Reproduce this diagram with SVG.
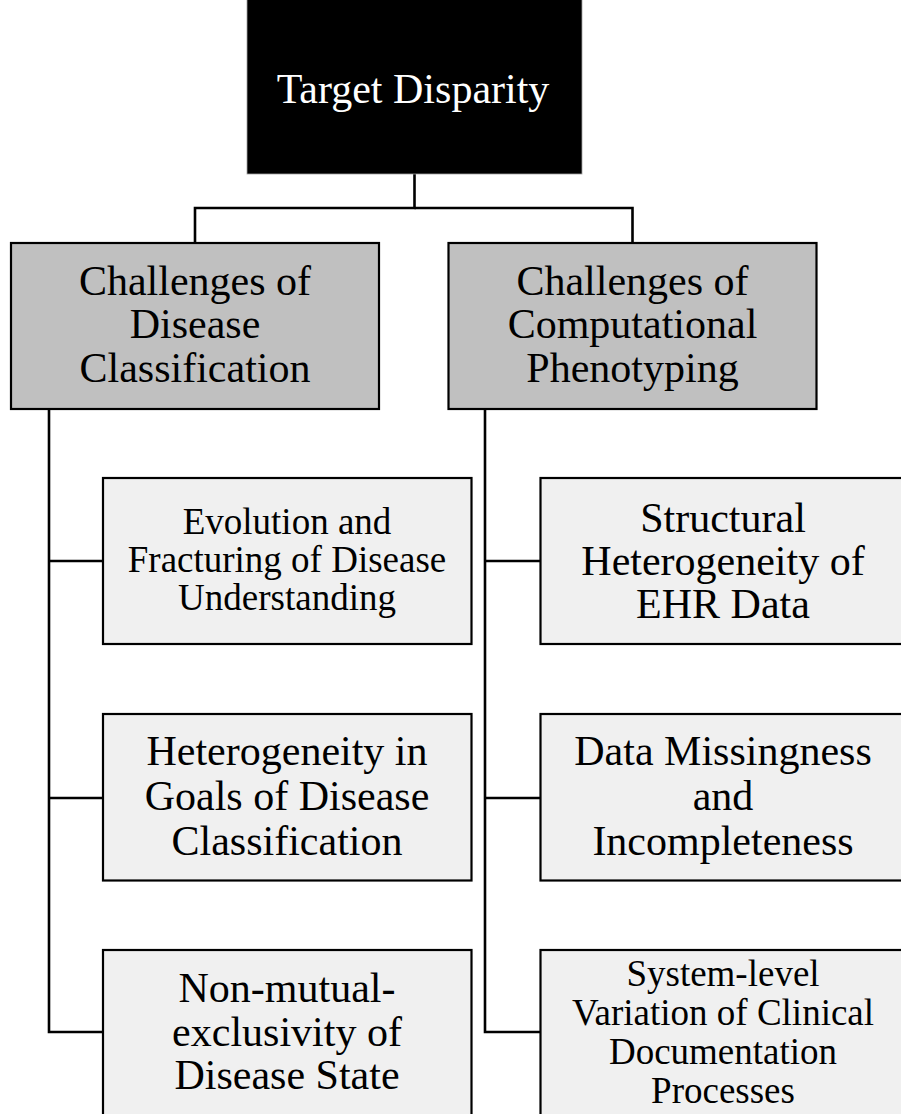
<svg xmlns="http://www.w3.org/2000/svg" width="901" height="1114" viewBox="0 0 901 1114">
<style>
.t{font-family:"Liberation Serif","Times New Roman",serif;text-anchor:middle;fill:#000}
.w{fill:#fff}
.l{font-size:42px}
.s{font-size:37px}
.g{fill:#c0c0c0;stroke:#000;stroke-width:2.2}
.c{fill:#f0f0f0;stroke:#000;stroke-width:2.2}
.cn{fill:none;stroke:#000;stroke-width:2.6}
</style>
<rect width="901" height="1114" fill="#fff"/>
<g id="connectors">
<polyline class="cn" points="414.5,174 414.5,208 195,208 195,243"/>
<polyline class="cn" points="414.5,208 632.5,208 632.5,243"/>
<polyline class="cn" points="49,409 49,1032 103,1032"/>
<line class="cn" x1="49" y1="561" x2="103" y2="561"/>
<line class="cn" x1="49" y1="798" x2="103" y2="798"/>
<polyline class="cn" points="485,409 485,1032 540,1032"/>
<line class="cn" x1="485" y1="561" x2="540" y2="561"/>
<line class="cn" x1="485" y1="798" x2="540" y2="798"/>
</g>
<g id="target">
<rect x="247" y="-2" width="335" height="176" fill="#000" stroke="#a0a0a0" stroke-width="0.8"/>
<text class="t w l" x="413" y="103">Target Disparity</text>
</g>
<g id="disease-classification">
<rect class="g" x="11" y="243" width="368" height="166"/>
<text class="t l" x="195"><tspan x="195" y="295">Challenges of</tspan><tspan x="195" y="338">Disease</tspan><tspan x="195" y="381.5">Classification</tspan></text>
</g>
<g id="computational-phenotyping">
<rect class="g" x="448.5" y="243" width="368" height="166"/>
<text class="t l" x="632.5"><tspan x="632.5" y="295">Challenges of</tspan><tspan x="632.5" y="338">Computational</tspan><tspan x="632.5" y="381.5">Phenotyping</tspan></text>
</g>
<g id="evolution">
<rect class="c" x="103" y="478" width="368.5" height="166"/>
<text class="t s"><tspan x="287" y="534">Evolution and</tspan><tspan x="287" y="572">Fracturing of Disease</tspan><tspan x="287" y="610">Understanding</tspan></text>
</g>
<g id="heterogeneity-goals">
<rect class="c" x="103" y="714" width="368.5" height="166.5"/>
<text class="t l"><tspan x="287" y="765">Heterogeneity in</tspan><tspan x="287" y="810">Goals of Disease</tspan><tspan x="287" y="855">Classification</tspan></text>
</g>
<g id="non-mutual">
<rect class="c" x="103" y="950" width="368.5" height="170"/>
<text class="t l"><tspan x="287" y="1002">Non-mutual-</tspan><tspan x="287" y="1046">exclusivity of</tspan><tspan x="287" y="1089">Disease State</tspan></text>
</g>
<g id="structural">
<rect class="c" x="540.5" y="478" width="368" height="166"/>
<text class="t l"><tspan x="723" y="531.5">Structural</tspan><tspan x="723" y="575">Heterogeneity of</tspan><tspan x="723" y="618">EHR Data</tspan></text>
</g>
<g id="missingness">
<rect class="c" x="540.5" y="714" width="368" height="166.5"/>
<text class="t l"><tspan x="723" y="765">Data Missingness</tspan><tspan x="723" y="810">and</tspan><tspan x="723" y="855">Incompleteness</tspan></text>
</g>
<g id="system-level">
<rect class="c" x="540.5" y="950" width="368" height="170"/>
<text class="t s"><tspan x="723" y="985.5">System-level</tspan><tspan x="723" y="1025">Variation of Clinical</tspan><tspan x="723" y="1064">Documentation</tspan><tspan x="723" y="1103">Processes</tspan></text>
</g>
</svg>
